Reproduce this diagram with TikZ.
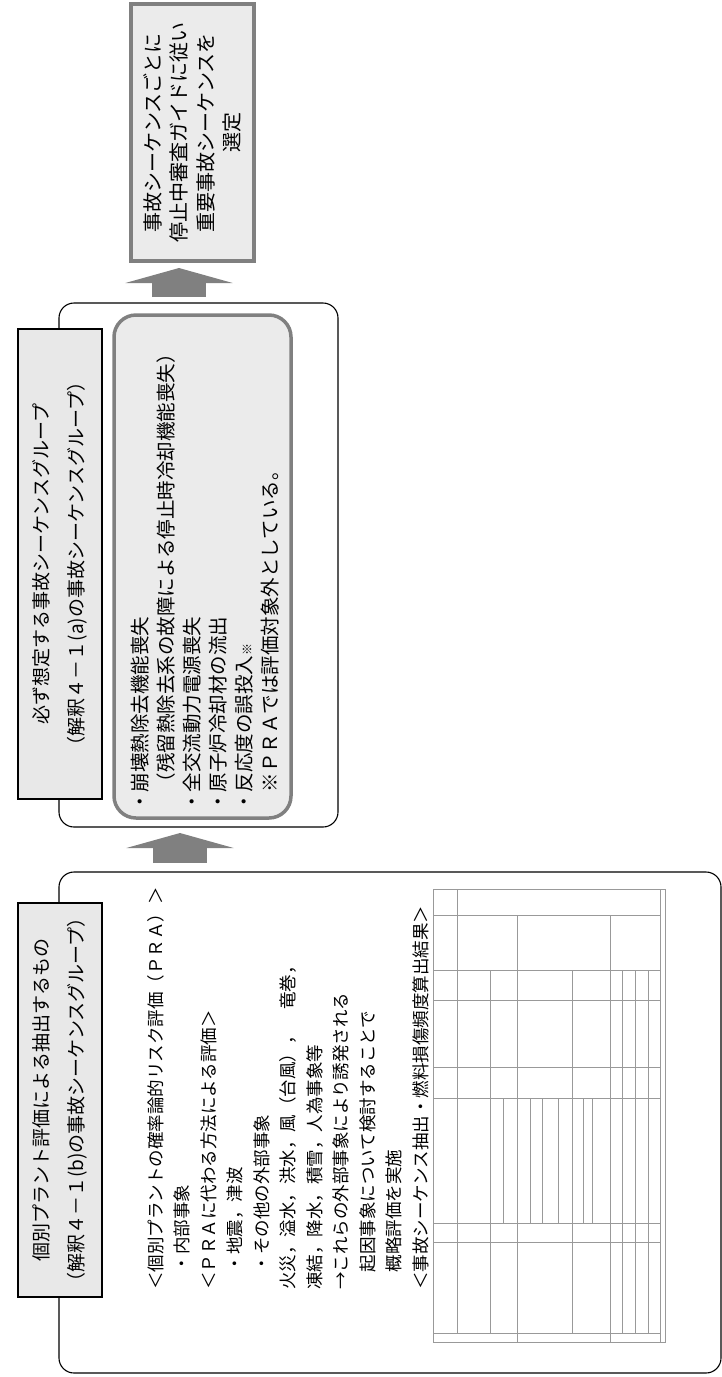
\documentclass[tikz,border=0pt]{standalone}
\usepackage{fontspec}
\setmainfont{Noto Sans CJK JP}
\usetikzlibrary{arrows.meta}
\begin{document}
\begin{tikzpicture}[x=1pt,y=-1pt,
  hdrbox/.style={draw=black, line width=1.1pt, fill=black!9, inner sep=0pt, outer sep=0pt},
  outerbox/.style={draw=black, line width=1.1pt, rounded corners=15pt, inner sep=0pt, outer sep=0pt},
  innerbox/.style={draw=black!50, line width=3.5pt, fill=black!8, rounded corners=22pt, inner sep=0pt, outer sep=0pt},
  topbox/.style={draw=black!50, line width=4pt, fill=black!8, inner sep=0pt, outer sep=0pt},
  vtext/.style={rotate=90, inner sep=0pt},
  blockarrow/.style={draw=black!50, line width=54pt, -{Triangle[width=107pt,length=15pt]}},
  tabline/.style={draw=black!40, line width=0.6pt},
]
\useasboundingbox (0,0) rectangle (722,1377);

% boxes
\node[topbox, minimum width=123pt, minimum height=257pt] (top) at (192.5,132.5) {};
\node[outerbox, minimum width=279pt, minimum height=524pt] (mid) at (198.5,565) {};
\node[innerbox, minimum width=177pt, minimum height=503pt] (inner) at (202.5,566.5) {};
\node[hdrbox, minimum width=84pt, minimum height=470pt] (midhdr) at (60,564) {};
\node[outerbox, minimum width=662pt, minimum height=501pt] (pra) at (390,1122.5) {};
\node[hdrbox, minimum width=84pt, minimum height=394pt] (prahdr) at (60,1100) {};

% block arrows
\coordinate (a1s) at (180,863);
\coordinate (a1t) at (180,833);
\coordinate (a2s) at (179,297);
\coordinate (a2t) at (179,268);
\draw[blockarrow] (a1s) -- (a1t);
\draw[blockarrow] (a2s) -- (a2t);

% texts
\node[vtext, align=center, font=\fontsize{20pt}{26.5pt}\selectfont] (toptext) at (top.center)
  {事故シーケンスごとに\\停止中審査ガイドに従い\\重要事故シーケンスを\\選定};
\node[vtext, align=center, font=\fontsize{19pt}{35pt}\selectfont] (midhdrtext) at (midhdr.center)
  {必ず想定する事故シーケンスグループ\\（解釈４－１(a)の事故シーケンスグループ）};
\node[vtext, align=center, font=\fontsize{19pt}{35pt}\selectfont] (prahdrtext) at (prahdr.center)
  {個別プラント評価による抽出するもの\\（解釈４－１(b)の事故シーケンスグループ）};
\node[vtext, align=left, anchor=north west, font=\fontsize{19.5pt}{26pt}\selectfont] (innertext) at (131,812)
  {・崩壊熱除去機能喪失\\
   　（残留熱除去系の故障による停止時冷却機能喪失）\\
   ・全交流動力電源喪失\\
   ・原子炉冷却材の流出\\
   ・反応度の誤投入{\fontsize{12pt}{12pt}\selectfont ※}\\
   　※ＰＲＡでは評価対象外としている。};
\node[vtext, align=left, anchor=north west, font=\fontsize{17.5pt}{26.5pt}\selectfont] (pratext) at (147,1290)
  {＜個別プラントの確率論的リスク評価（ＰＲＡ）＞\\
   　・内部事象\\
   ＜ＰＲＡに代わる方法による評価＞\\
   　・地震，津波\\
   　・その他の外部事象\\
   火災，溢水，洪水，風（台風），　竜巻，\\
   凍結，降水，積雪，人為事象等\\
   →これらの外部事象により誘発される\\
   　起因事象について検討することで\\
   　概略評価を実施\\
   ＜事故シーケンス抽出・燃料損傷頻度算出結果＞};

% results table (reduced image)
\node[tabline, draw, minimum width=232pt, minimum height=453pt, inner sep=0pt, outer sep=0pt] (tbl) at (549,1115.5) {};
\draw[tabline] (660,889) -- (660,1342);
\draw[tabline] (517,915) -- (517,1342);
\draw[tabline] (610,915) -- (610,1342);
\draw[tabline] (457,889) -- (457,1333);
\foreach \yy in {915,970,1000,1067,1098,1223,1242,1333}
  \draw[tabline] (433,\yy) -- (660,\yy);
\foreach \xx in {490,572,622,635,648}
  \draw[tabline] (\xx,970) -- (\xx,1333);
\foreach \xx in {503,530,542,558,583,592}
  \draw[tabline] (\xx,1098) -- (\xx,1223);
\end{tikzpicture}
\end{document}
